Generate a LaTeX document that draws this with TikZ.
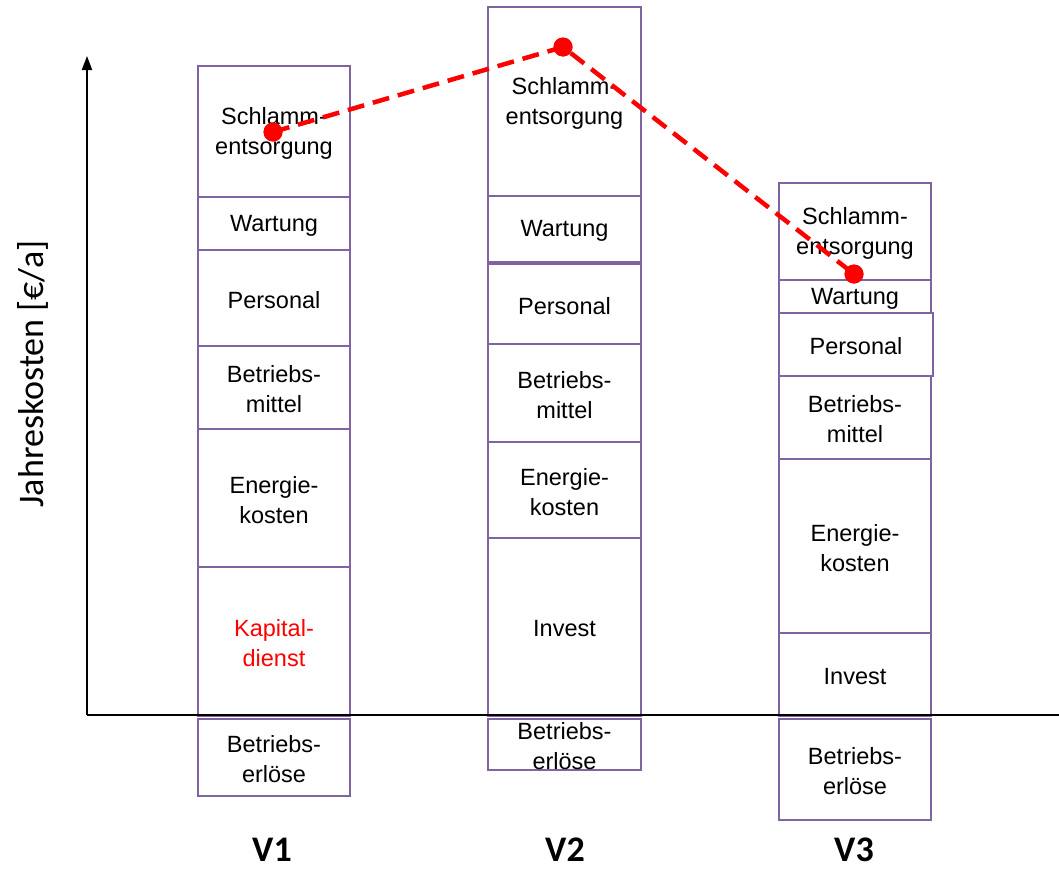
\documentclass[tikz,border=0pt]{standalone}
\usepackage{fontspec}
\setmainfont{Liberation Sans}
\newfontfamily\calibri{Carlito}
\usetikzlibrary{arrows.meta}
\definecolor{boxpurple}{RGB}{128,100,162}
\definecolor{dotred}{RGB}{255,0,0}
\newcommand{\seg}[7][]{%
  \node[segbox, minimum width={#5-#3}, minimum height={#6-#4}] (#2) at ({(#3+#5)/2},{(#4+#6)/2}) {};
  \node[seglabel,#1] (#2t) at ([yshift=-2pt]#2.center) {#7};
}
\tikzset{
  segbox/.style={draw=boxpurple, line width=2.8pt, inner sep=0pt, outer sep=0pt, fill=none},
  seglabel/.style={align=center, inner sep=0pt, font=\fontsize{23.5}{30}\selectfont},
  vlabel/.style={font=\calibri\bfseries\fontsize{36}{38}\selectfont, inner sep=0pt, anchor=base},
  axis/.style={line width=2pt, black},
  trend/.style={dotred, line width=4.5pt, dash pattern=on 17pt off 9pt},
  dot/.style={circle, fill=dotred, minimum size=19pt, inner sep=0pt},
}
\begin{document}
\begin{tikzpicture}[x=1pt,y=-1pt]
\useasboundingbox (0,0) rectangle (1059,868);
% V1
\seg{a1}{198}{66}{350}{197}{Schlamm-\\entsorgung}
\seg{a2}{198}{197}{350}{250}{Wartung}
\seg{a3}{198}{250}{350}{346}{Personal}
\seg{a4}{198}{346}{350}{429}{Betriebs-\\mittel}
\seg{a5}{198}{429}{350}{567}{Energie-\\kosten}
\seg[text=dotred]{a6}{198}{567}{350}{716}{Kapital-\\dienst}
\seg{a7}{198}{719}{350}{796}{Betriebs-\\erlöse}
% V2
\seg{b1}{488}{7}{641}{196}{Schlamm-\\entsorgung}
\seg{b2}{488}{196}{641}{262}{Wartung}
\seg{b3}{488}{264}{641}{344}{Personal}
\seg{b4}{488}{344}{641}{442}{Betriebs-\\mittel}
\seg{b5}{488}{442}{641}{538}{Energie-\\kosten}
\seg{b6}{488}{538}{641}{716}{Invest}
\seg{b7}{488}{719}{641}{770}{Betriebs-\\erlöse}
% V3
\seg{c1}{779}{183}{931}{280}{Schlamm-\\entsorgung}
\seg{c2}{779}{280}{931}{313}{Wartung}
\seg{c3}{779}{313}{933}{376}{Personal}
\seg{c4}{779}{376}{931}{459}{Betriebs-\\mittel}
\seg{c5}{779}{459}{931}{633}{Energie-\\kosten}
\seg{c6}{779}{633}{931}{716}{Invest}
\seg{c7}{779}{719}{931}{820}{Betriebs-\\erlöse}
% axes
\coordinate (O) at (87,715);
\coordinate (ytop) at (87,56);
\coordinate (xend) at (1059,715);
\draw[axis, -{Triangle[length=14pt,width=10pt]}] (O) -- (ytop);
\draw[axis] (O) -- (xend);
\node[font=\calibri\fontsize{36}{40}\selectfont, rotate=90, inner sep=0pt] (ylab) at (33,374) {Jahreskosten [€/a]};
% column labels
\node[vlabel] (v1) at (272,861) {V1};
\node[vlabel] (v2) at (565,861) {V2};
\node[vlabel] (v3) at (854,861) {V3};
% trend
\node[dot] (d1) at (273,132) {};
\node[dot] (d2) at (563,47) {};
\node[dot] (d3) at (854,274) {};
\draw[trend] (d1.center) -- (d2.center) -- (d3.center);
\node[dot] at (d1) {};
\node[dot] at (d2) {};
\node[dot] at (d3) {};
\end{tikzpicture}
\end{document}
